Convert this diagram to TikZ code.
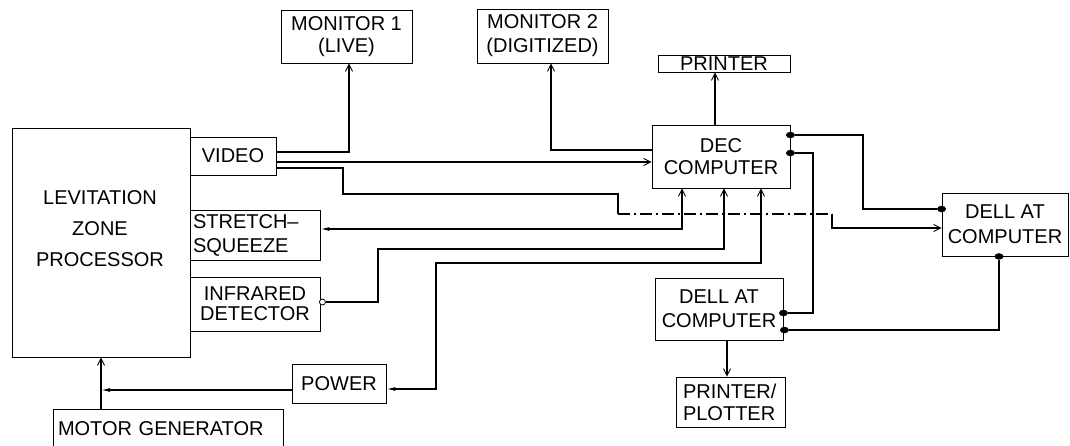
\documentclass[tikz,border=0pt]{standalone}
\usepackage{fontspec}
\setmainfont{Liberation Sans}
\usetikzlibrary{arrows.meta,calc,shapes.geometric}
\newcommand\dfont{\fontsize{20}{22}\selectfont}
\begin{document}
\begin{tikzpicture}[x=1pt,y=-1pt,
  box/.style={draw, line width=0.9pt, inner sep=0pt, align=center, font=\dfont},
  conn/.style={line width=1.2pt},
  barb/.tip={Straight Barb[length=7pt,width=7pt,line width=0.9pt]},
  fillt/.tip={Latex[length=9pt,width=4pt]},
  >=barb,
  dashdot/.style={line width=1.2pt, dash pattern=on 12pt off 4pt on 2pt off 4pt},
  blob/.style={ellipse, fill, inner sep=0pt, minimum width=9pt, minimum height=6.5pt},
  opendot/.style={circle, draw, fill=white, line width=0.8pt, inner sep=0pt, minimum size=6pt}
]
\clip (0,0) rectangle (1070,445);
\fill[white] (0,0) rectangle (1070,445);

% boxes
\node[box, minimum width=178pt, minimum height=229pt] (lzp) at (101,242.5) {};
\node[font=\fontsize{20}{22}\selectfont, align=center, inner sep=0pt] (lzpt) at (100,229) {LEVITATION\\[9pt]ZONE\\[9pt]PROCESSOR};
\node[box, minimum width=86pt, minimum height=38pt] (video) at (233,156) {VIDEO};
\node[box, minimum width=130pt, minimum height=50pt, text width=124pt, align=left, font=\fontsize{20}{24}\selectfont] (stretch) at (255,235) {STRETCH–\\SQUEEZE};
\node[box, minimum width=130pt, minimum height=54pt, font=\fontsize{20}{20}\selectfont] (infrared) at (255,304) {INFRARED\\DETECTOR};
\node[box, minimum width=230pt, minimum height=40pt, text width=220pt, align=left] (motor) at (168,429) {MOTOR GENERATOR};
\node[box, minimum width=94pt, minimum height=39pt] (power) at (339,383.5) {POWER};
\node[box, minimum width=131pt, minimum height=53pt] (monitor1) at (346.5,36.5) {MONITOR 1\\(LIVE)};
\node[box, minimum width=131pt, minimum height=54pt, font=\fontsize{20}{24}\selectfont] (monitor2) at (542.5,36) {MONITOR 2\\(DIGITIZED)};
\node[box, minimum width=132pt, minimum height=17pt] (printer) at (724,63.5) {PRINTER};
\node[box, minimum width=138pt, minimum height=63pt] (dec) at (721,156.5) {DEC\\COMPUTER};
\node[box, minimum width=126pt, minimum height=63pt, font=\fontsize{20}{25}\selectfont] (dellR) at (1005,224.5) {DELL AT\\COMPUTER};
\node[box, minimum width=128pt, minimum height=62pt, font=\fontsize{20}{24}\selectfont] (dellL) at (719,309) {DELL AT\\COMPUTER};
\node[box, minimum width=109pt, minimum height=50pt, text width=95pt, align=left] (plotter) at (730.5,402) {PRINTER/\\PLOTTER};

% terminal dots
\node[blob] (decd1) at ([yshift=21.5pt]dec.east) {};
\node[blob] (decd2) at ([yshift=3.5pt]dec.east) {};
\node[blob] (rd1) at ([yshift=15.5pt]dellR.west) {};
\node[blob] (rd2) at ([xshift=-6pt]dellR.south) {};
\node[blob] (ld1) at ([yshift=-4pt]dellL.east) {};
\node[blob] (ld2) at ([xshift=1pt,yshift=-21pt]dellL.east) {};
\node[opendot] (ird) at ([xshift=2pt,yshift=2pt]infrared.east) {};

% bend points
\coordinate (b1) at (343,194);
\coordinate (b2) at (618,214);
\coordinate (b3) at (832,214);
\coordinate (i1) at (378,249);
\coordinate (p1) at (436,263);
\coordinate (r1) at (863,209);
\coordinate (r2) at (813,313);

% connectors
\draw[conn,->] ([yshift=4pt]video.east) -| ([xshift=2.5pt]monitor1.south);
\draw[conn,->] ([yshift=-6pt]video.east) -- ([yshift=-6pt]video.east -| dec.west);
\draw[conn,->] ([yshift=6.5pt]dec.west) -| ([xshift=8.5pt]monitor2.south);
\draw[conn,->] ([xshift=-6pt]dec.north) -- ([xshift=-6pt]dec.north |- printer.south);
\draw[conn] ([yshift=-12pt]video.east) -| (b1) -| (b2);
\draw[dashdot] (b2) -- (b3);
\draw[conn,->] (b3) |- ([yshift=-3.5pt]dellR.west);
\draw[conn,{fillt}-{barb}] ([yshift=6pt]stretch.east) -| ([xshift=-39pt]dec.south);
\draw[conn,->] (ird) -| (i1) -| ([xshift=3pt]dec.south);
\draw[conn,{fillt}-{barb}] ([yshift=-5.5pt]power.east) -| (p1) -| ([xshift=40pt]dec.south);
\draw[conn,-{fillt}] ([yshift=-6.5pt]power.west) -- ([yshift=-6.5pt]power.west -| lzp.south);
\draw[conn,->] (lzp.south |- motor.north) -- (lzp.south);
\draw[conn] (decd1) -| (r1) -- (rd1);
\draw[conn] (decd2) -| (r2) -- (ld1);
\draw[conn] (rd2) |- (ld2);
\draw[conn,->] ([xshift=8pt]dellL.south) -- ([xshift=8pt]dellL.south |- plotter.north);
\end{tikzpicture}
\end{document}
